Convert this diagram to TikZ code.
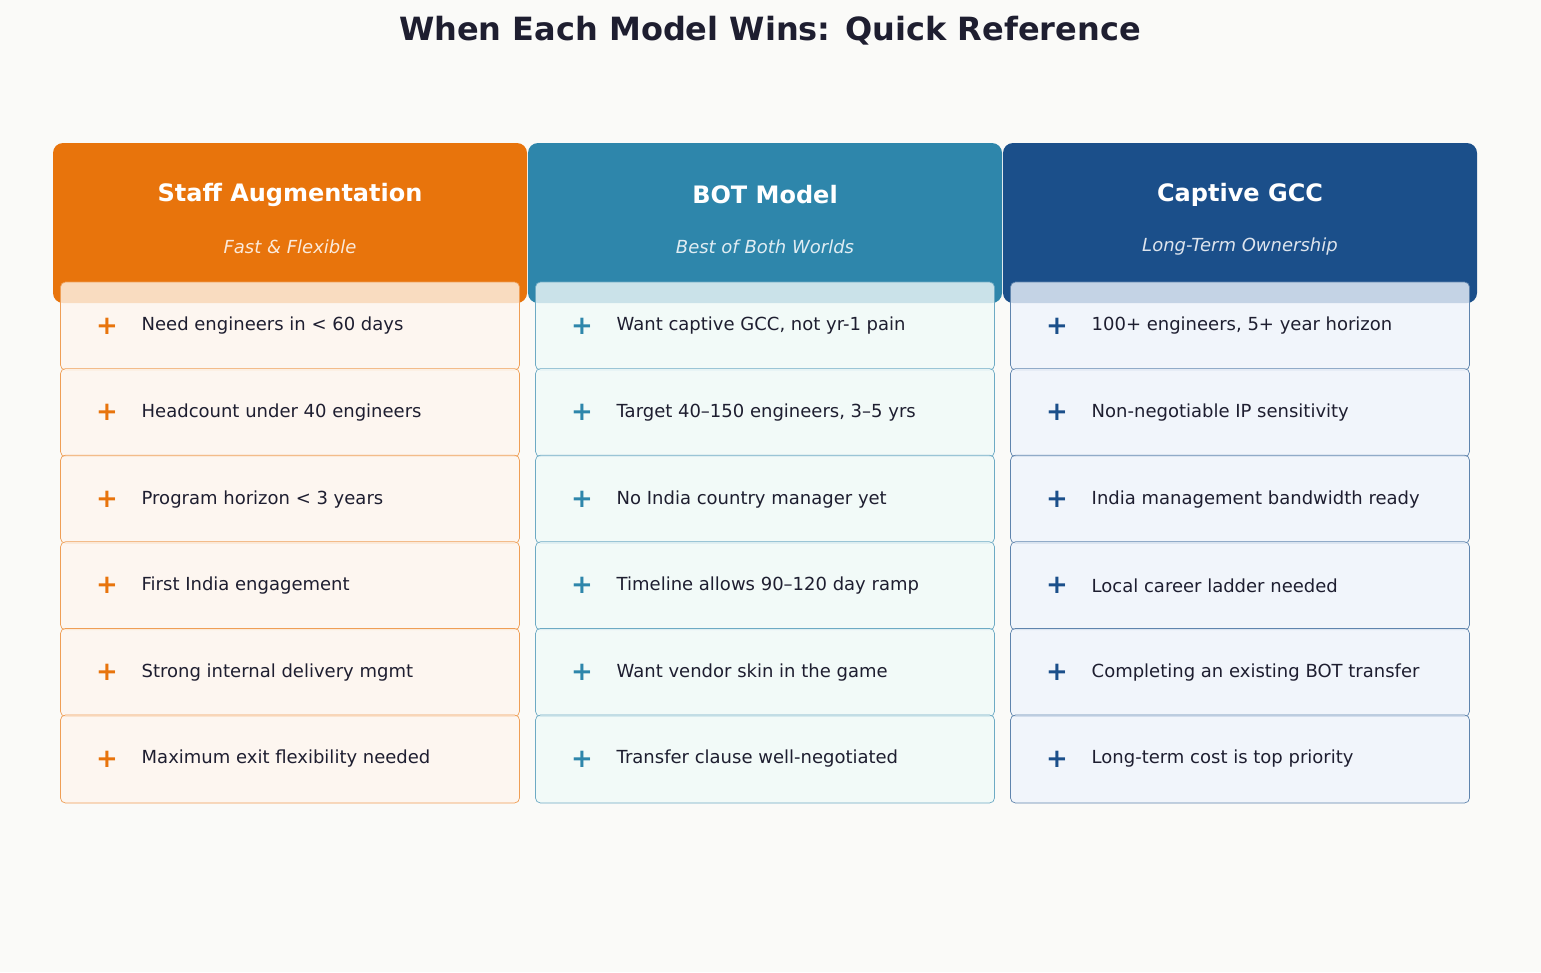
\documentclass[tikz,border=0pt]{standalone}
\usepackage{fontspec}
\setmainfont{DejaVu Sans}
\usetikzlibrary{positioning}
\definecolor{bgc}{HTML}{FAFAF8}
\definecolor{ink}{HTML}{1E1E30}
\definecolor{cA}{HTML}{E8740C}
\definecolor{cB}{HTML}{2E86AB}
\definecolor{cC}{HTML}{1B4F8A}
\definecolor{fA}{HTML}{FEF6EE}
\definecolor{fB}{HTML}{F1FAF9}
\definecolor{fC}{HTML}{EFF4FC}
\tikzset{
  head/.style={fill=c#1, rounded corners=10pt, minimum width=474pt, minimum height=160pt, inner sep=0pt},
  row/.style={draw=c#1!70, fill=f#1, fill opacity=0.8, text opacity=1, rounded corners=5pt,
    minimum width=459pt, minimum height=88pt, line width=0.7pt, inner sep=0pt},
  item/.style={font=\fontsize{18}{20}\selectfont, text=ink, anchor=west},
  plus/.style={font=\fontsize{26}{28}\selectfont\bfseries, text=c#1}
}
\begin{document}
\begin{tikzpicture}[x=1pt,y=-1pt]
\fill[bgc] (0,0) rectangle (1541,972);
\useasboundingbox (0,0) rectangle (1541,972);
\node[font=\fontsize{32}{36}\selectfont\bfseries, text=ink] (title) at (770,31) {When Each Model Wins: Quick Reference};

% column headers
\foreach \c/\x/\name/\sub in {A/290/Staff Augmentation/Fast \& Flexible,
    B/765/BOT Model/Best of Both Worlds,
    C/1240/Captive GCC/Long-Term Ownership} {
  \node[head=\c] (head\c) at (\x,223) {};
  \node[font=\fontsize{24}{26}\selectfont\bfseries, text=white] (name\c) at (\x,195) {\name};
  \node[font=\fontsize{18}{20}\selectfont\itshape, text=white!85!c\c] (sub\c) at (\x,247) {\sub};
}

% rows
\foreach \c/\x in {A/290,B/765,C/1240} {
  \foreach \i in {1,...,6} {
    \node[row=\c] (row\c\i) at (\x,{326+86.6*(\i-1)}) {};
    \node[plus=\c] (plus\c\i) at ({\x-183},{326+86.6*(\i-1)}) {+};
  }
}
\foreach \i/\t in {1/Need engineers in < 60 days,2/Headcount under 40 engineers,3/Program horizon < 3 years,
    4/First India engagement,5/Strong internal delivery mgmt,6/Maximum exit flexibility needed}
  \node[item] (txtA\i) at ([xshift=78pt]rowA\i.west) {\t};
\foreach \i/\t in {1/{Want captive GCC, not yr-1 pain},2/{Target 40–150 engineers, 3–5 yrs},3/No India country manager yet,
    4/Timeline allows 90–120 day ramp,5/Want vendor skin in the game,6/Transfer clause well-negotiated}
  \node[item] (txtB\i) at ([xshift=78pt]rowB\i.west) {\t};
\foreach \i/\t in {1/{100+ engineers, 5+ year horizon},2/Non-negotiable IP sensitivity,3/India management bandwidth ready,
    4/Local career ladder needed,5/Completing an existing BOT transfer,6/Long-term cost is top priority}
  \node[item] (txtC\i) at ([xshift=78pt]rowC\i.west) {\t};
\end{tikzpicture}
\end{document}
